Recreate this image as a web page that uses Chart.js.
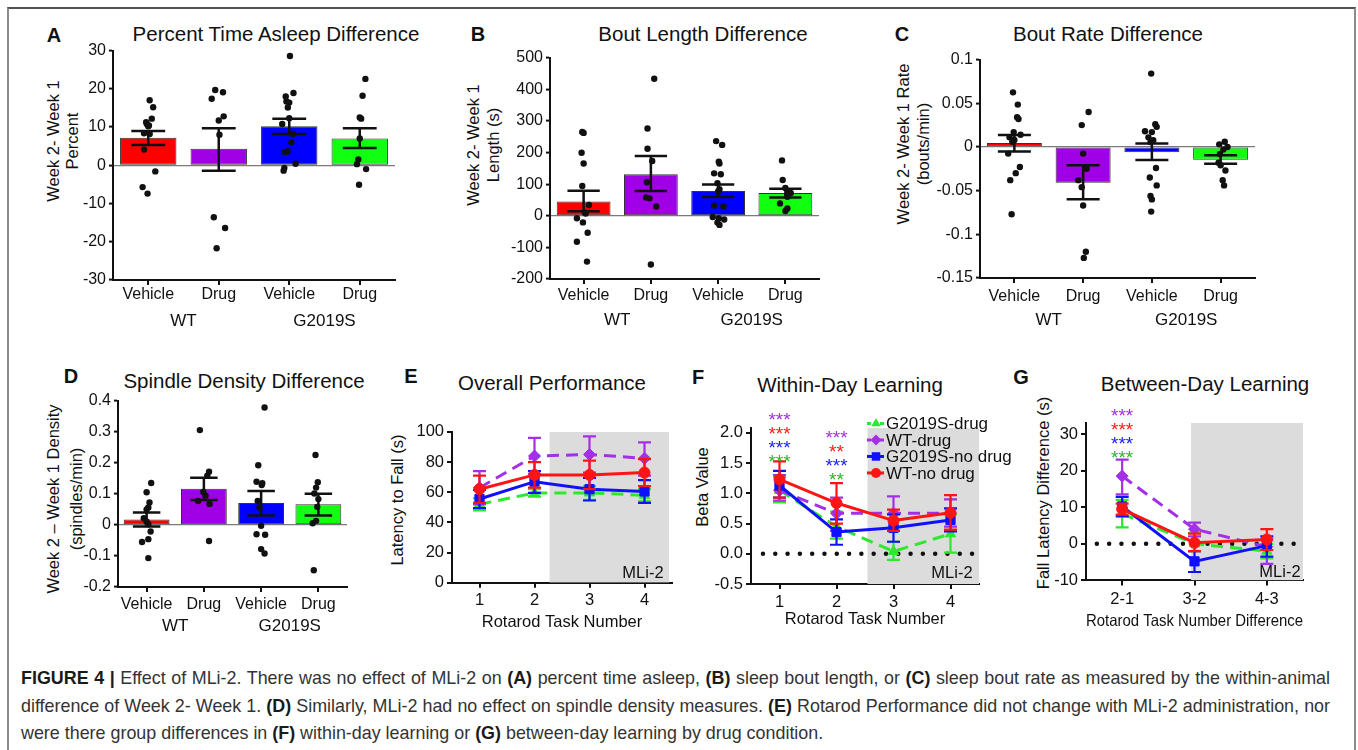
<!DOCTYPE html>
<html>
<head>
<meta charset="utf-8">
<script src="https://cdn.jsdelivr.net/npm/chart.js@4.4.1/dist/chart.umd.min.js"></script>
<style>
html, body { margin: 0; padding: 0; background: #fff; }
body { width: 1358px; height: 750px; position: relative; overflow: hidden; font-family: "Liberation Sans", Arial, sans-serif; color: #111; }
.frame { position: absolute; left: 7px; top: 7px; width: 1345px; height: 800px; border-top: 2px solid #505050; border-left: 2px solid #8c8c8c; border-right: 2px solid #8c8c8c; }
canvas { position: absolute; }
.t { position: absolute; white-space: nowrap; transform: translate(-50%, -50%); line-height: 1; }
.title { font-size: 20.5px; }
.letter { font-size: 20px; font-weight: bold; }
.yt { font-size: 16.5px; transform: translate(-50%, -50%) rotate(-90deg); }
.ml { font-size: 16.5px; }
.caption { position: absolute; left: 21px; top: 665px; width: 1309px; font-size: 17.9px; line-height: 27.5px; color: #333; }
.caption div { white-space: nowrap; text-align: justify; text-align-last: justify; }
.caption div.last { text-align-last: left; }
.caption b { color: #1a1a1a; }
</style>
</head>
<body>
<div class="frame"></div>

<!-- panel letters and titles -->
<div class="t letter" style="left:54px;top:35px">A</div>
<div class="t letter" style="left:478px;top:34px">B</div>
<div class="t letter" style="left:902px;top:34px">C</div>
<div class="t letter" style="left:71px;top:376px">D</div>
<div class="t letter" style="left:411px;top:376px">E</div>
<div class="t letter" style="left:698px;top:377px">F</div>
<div class="t letter" style="left:1021px;top:377px">G</div>

<div class="t title" style="left:276px;top:34px">Percent Time Asleep Difference</div>
<div class="t title" style="left:703px;top:34px">Bout Length Difference</div>
<div class="t title" style="left:1108px;top:34px">Bout Rate Difference</div>
<div class="t title" style="left:244px;top:381px">Spindle Density Difference</div>
<div class="t title" style="left:552px;top:383px">Overall Performance</div>
<div class="t title" style="left:850px;top:385px">Within-Day Learning</div>
<div class="t title" style="left:1205px;top:384px">Between-Day Learning</div>

<!-- y axis titles -->
<div class="t yt" style="left:53px;top:141px">Week 2- Week 1</div>
<div class="t yt" style="left:72px;top:141px">Percent</div>
<div class="t yt" style="left:473px;top:145px">Week 2- Week 1</div>
<div class="t yt" style="left:493px;top:145px">Length (s)</div>
<div class="t yt" style="left:903px;top:144px">Week 2- Week 1 Rate</div>
<div class="t yt" style="left:923px;top:144px">(bouts/min)</div>
<div class="t yt" style="left:53px;top:499px">Week 2 – Week 1 Density</div>
<div class="t yt" style="left:76px;top:499px">(spindles/min)</div>
<div class="t yt" style="left:397px;top:500px">Latency to Fall (s)</div>
<div class="t yt" style="left:702px;top:487px">Beta Value</div>
<div class="t yt" style="left:1043px;top:493px">Fall Latency Difference (s)</div>

<div class="caption">
<div><b>FIGURE 4 |</b> Effect of MLi-2. There was no effect of MLi-2 on <b>(A)</b> percent time asleep, <b>(B)</b> sleep bout length, or <b>(C)</b> sleep bout rate as measured by the within-animal</div>
<div>difference of Week 2- Week 1. <b>(D)</b> Similarly, MLi-2 had no effect on spindle density measures. <b>(E)</b> Rotarod Performance did not change with MLi-2 administration, nor</div>
<div class="last">were there group differences in <b>(F)</b> within-day learning or <b>(G)</b> between-day learning by drug condition.</div>
</div>

<script>
// ---- shared categories ----
const barLabels = ['Vehicle', 'Drug', 'Vehicle', 'Drug'];
const groupLabels = ['WT', 'G2019S'];
const barColors = ['#ff0000', '#a000e6', '#0000ff', '#11ff11'];

// ---- A: percent time asleep ----
const sleepMeans = [7.2, 4.3, 10.2, 7.0];
const sleepErr = [[5.3, 9.0], [-1.4, 9.7], [8.2, 12.2], [4.5, 9.7]];
const sleepTicks = [-30, -20, -10, 0, 10, 20, 30];
// dots: [offset from category centre, value]
const sleepDots = [
    [[0.02, 17.0], [0.07, 15.2], [0.05, 12.2], [-0.03, 11.3], [-0.02, 10.8], [0.01, 10.4], [0, 10.2], [-0.06, 8.4], [0.02, 8.2], [-0.06, 4.1], [0.1, -1.6], [-0.08, -5.7], [-0.01, -7.4]],
    [[-0.05, 19.7], [0.06, 19.1], [-0.1, 17.4], [0.07, 12.8], [0, 11.7], [0.01, 8.0], [-0.07, -13.6], [0.09, -16.4], [-0.03, -21.7]],
    [[0.01, 28.6], [-0.05, 18.0], [0.06, 18.9], [-0.04, 16.7], [0, 16.4], [-0.02, 15.1], [0, 12.3], [-0.1, 10.8], [0.05, 8.2], [0.03, 6.0], [-0.06, 3.5], [-0.02, 3.7], [0.09, 0.4], [-0.07, -0.7], [-0.08, -1.4]],
    [[0.08, 22.6], [0.04, 18.2], [0, 12.5], [0.02, 12.2], [0, 7.0], [-0.02, 1.5], [-0.04, 0.3], [0.09, -1.0], [-0.01, -5.1]],
];

// ---- B: bout length ----
const boutLenMeans = [45, 131, 78, 72];
const boutLenErr = [[14, 79], [78, 189], [59, 99], [58, 85]];
const boutLenTicks = [-200, -100, 0, 100, 200, 300, 400, 500];
const boutLenDots = [
    [[-0.02, 265], [0, 262], [-0.03, 199], [0, 165], [-0.02, 94], [0.08, 34], [0.02, 10], [0.03, 7], [-0.1, -8], [-0.01, -21], [0.06, -54], [-0.1, -82], [0.05, -145]],
    [[0.05, 433], [-0.05, 276], [-0.05, 212], [0.02, 173], [-0.06, 106], [-0.07, 58], [-0.02, 55], [0.08, 29], [0, -154]],
    [[-0.03, 236], [0.06, 224], [0.01, 171], [0.02, 165], [-0.06, 134], [0.04, 131], [-0.01, 103], [0.02, 84], [0, 77], [-0.06, 32], [0.08, 30], [-0.08, -4], [0.01, -8], [0.09, -12], [-0.01, -21], [0.02, -29]],
    [[-0.05, 175], [-0.04, 113], [0, 88], [0.05, 76], [0.08, 72], [0.03, 60], [-0.08, 39], [0.03, 23], [0, 15]],
];

// ---- C: bout rate ----
const boutRateMeans = [0.0045, -0.041, -0.006, -0.0145];
const boutRateErr = [[-0.0053, 0.0136], [-0.0598, -0.021], [-0.0148, 0.0039], [-0.0193, -0.0094]];
const boutRateTicks = [-0.15, -0.1, -0.05, 0, 0.05, 0.1];
const boutRateDots = [
    [[-0.02, 0.0625], [0.05, 0.0485], [0.04, 0.034], [0.06, 0.032], [-0.01, 0.017], [0.09, 0.014], [-0.07, 0.011], [0, 0.008], [-0.03, 0.006], [-0.09, -0.0076], [0.08, -0.023], [0.02, -0.030], [-0.06, -0.038], [-0.04, -0.077]],
    [[0.08, 0.040], [-0.02, 0.025], [0, -0.0076], [0.05, -0.025], [-0.07, -0.038], [-0.02, -0.046], [0, -0.067], [0.04, -0.120], [0.01, -0.127]],
    [[-0.01, 0.084], [0.05, 0.026], [0.07, 0.023], [-0.1, 0.018], [0, 0.017], [-0.05, 0.011], [0.02, 0.0076], [-0.02, 0.0057], [0.06, -0.024], [-0.03, -0.035], [0.07, -0.044], [-0.02, -0.056], [0, -0.060], [-0.01, -0.074]],
    [[0.06, 0.006], [-0.02, 0.003], [0.1, 0], [0.04, -0.003], [-0.01, -0.008], [-0.03, -0.018], [0, -0.021], [0.07, -0.027], [0.03, -0.038], [0.05, -0.044]],
];

// ---- D: spindle density ----
const spindleMeans = [0.017, 0.116, 0.070, 0.066];
const spindleErr = [[-0.005, 0.04], [0.08, 0.152], [0.03, 0.109], [0.03, 0.1]];
const spindleTicks = [-0.2, -0.1, 0, 0.1, 0.2, 0.3, 0.4];
const spindleDots = [
    [[0.08, 0.135], [0, 0.105], [0.05, 0.072], [0.03, 0.056], [0, 0.05], [-0.05, 0.0215], [0, 0.01], [0.03, 0.002], [0.07, -0.0215], [0.03, -0.046], [-0.08, -0.055], [0.03, -0.107]],
    [[-0.07, 0.305], [0.09, 0.171], [0.06, 0.158], [-0.01, 0.106], [0.03, 0.094], [-0.1, 0.077], [0.1, 0.067], [0.09, -0.052]],
    [[0.06, 0.378], [-0.05, 0.192], [-0.08, 0.139], [0.02, 0.134], [0.01, 0.128], [-0.06, 0.077], [-0.03, 0.056], [0, -0.003], [-0.08, -0.03], [0.07, -0.032], [0, -0.078], [0.06, -0.092]],
    [[-0.05, 0.225], [-0.01, 0.137], [-0.04, 0.12], [-0.07, 0.101], [0, 0.083], [-0.02, 0.058], [-0.04, 0.013], [-0.1, 0.005], [-0.08, -0.146]],
];

// ---- rotarod groups (E, F, G) ----
const groupNames = ['WT-no drug', 'G2019S-no drug', 'WT-drug', 'G2019S-drug'];
const groupColors = ['#ff1414', '#1010ff', '#a330e6', '#2ee82e'];
const groupDash = [[], [], [12, 7], [12, 7]];
const groupPoints = ['circle', 'rect', 'rectRot', 'triangle'];
const groupRadius = [5.5, 6.5, 6, 6];

// E: overall performance
const taskLabels = ['1', '2', '3', '4'];
const perfWtNo = [62, 71.5, 71.5, 73];
const perfWtNoErr = [[53, 71], [63, 80], [62, 81], [64, 82]];
const perfG2No = [55.5, 67, 62, 60.5];
const perfG2NoErr = [[49.5, 61.5], [59.5, 74], [54.5, 69.5], [53, 68]];
const perfWtDrug = [63, 84, 85, 82.5];
const perfWtDrugErr = [[52, 74], [72, 96], [73, 97], [71, 93]];
const perfG2Drug = [52, 59.5, 59.5, 58];
const perfG2DrugErr = [[48, 56], [57, 62], [55, 64], [54, 62]];
const perfTicks = [0, 20, 40, 60, 80, 100];

// F: within-day learning (beta)
const betaWtNo = [1.23, 0.84, 0.55, 0.68];
const betaWtNoErr = [[0.93, 1.53], [0.5, 1.17], [0.38, 0.73], [0.4, 0.97]];
const betaG2No = [1.13, 0.36, 0.43, 0.56];
const betaG2NoErr = [[0.93, 1.37], [0.15, 0.57], [0.2, 0.65], [0.37, 0.75]];
const betaWtDrug = [1.05, 0.67, 0.67, 0.67];
const betaWtDrugErr = [[0.88, 1.3], [0.38, 0.93], [0.38, 0.95], [0.45, 0.9]];
const betaG2Drug = [1.05, 0.45, 0.04, 0.33];
const betaG2DrugErr = [[0.85, 1.27], [0.25, 0.7], [-0.1, 0.2], [0.02, 0.65]];
const betaTicks = [-0.5, 0, 0.5, 1, 1.5, 2];

// G: between-day learning
const diffLabels = ['2-1', '3-2', '4-3'];
const diffWtNo = [9.5, 0.3, 1.2];
const diffWtNoErr = [[8, 11], [-2, 2.8], [-1.7, 4]];
const diffG2No = [10.2, -4.8, -0.5];
const diffG2NoErr = [[7.5, 12.8], [-7.7, -2], [-3.5, 2]];
const diffWtDrug = [18.5, 4, -0.8];
const diffWtDrugErr = [[13.5, 23], [2, 5.8], [-5.5, 1.2]];
const diffG2Drug = [8.2, 0, -2];
const diffG2DrugErr = [[4.5, 12], [-2, 3], [-4, 0]];
const diffTicks = [-10, 0, 10, 20, 30];

// significance stars: category, top value, rows of [text, colour]
const starPurple = '#a030e0', starRed = '#ff1a1a', starBlue = '#2020ff', starGreen = '#2bb52b';
const betaStars = [
    {x: 1, y: 2.30, rows: [['***', starPurple], ['***', starRed], ['***', starBlue], ['***', starGreen]]},
    {x: 2, y: 2.00, rows: [['***', starPurple], ['**', starRed], ['***', starBlue], ['**', starGreen]]},
];
const diffStars = [
    {x: 1, y: 36.3, rows: [['***', starPurple], ['***', starRed], ['***', starBlue], ['***', starGreen]]},
];

// ---- chart setup ----
const FONT = '"Liberation Sans", Arial, sans-serif';
Chart.defaults.font.family = FONT;
Chart.defaults.color = '#111';
Chart.defaults.animation = false;
Chart.defaults.plugins.legend.display = false;
Chart.defaults.plugins.tooltip.enabled = false;

function makeCanvas(left, top, width, height) {
    const c = document.createElement('canvas');
    c.width = Math.round(width);
    c.height = Math.round(height);
    c.style.left = Math.round(left) + 'px';
    c.style.top = Math.round(top) + 'px';
    c.style.width = Math.round(width) + 'px';
    c.style.height = Math.round(height) + 'px';
    document.body.appendChild(c);
    return c;
}

// error bars for any dataset carrying an `err` list of [low, high]
const errorBars = {
    id: 'errorBars',
    afterDatasetDraw(chart, args) {
        const ds = chart.data.datasets[args.index];
        if (!ds.err) return;
        const ys = chart.scales[args.meta.yAxisID];
        const ctx = chart.ctx;
        const half = ds.capFrac ? ds.capFrac * chart.chartArea.width / ds.data.length : ds.capHalf;
        ctx.save();
        ctx.strokeStyle = ds.errColor || ds.borderColor;
        ctx.lineWidth = ds.errWidth || 2;
        args.meta.data.forEach((el, i) => {
            const x = el.x;
            const y1 = ys.getPixelForValue(ds.err[i][0]);
            const y2 = ys.getPixelForValue(ds.err[i][1]);
            ctx.beginPath();
            ctx.moveTo(x, y1); ctx.lineTo(x, y2);
            ctx.moveTo(x - half, y1); ctx.lineTo(x + half, y1);
            ctx.moveTo(x - half, y2); ctx.lineTo(x + half, y2);
            ctx.stroke();
        });
        ctx.restore();
    }
};

function starPlugin(stars) {
    return {
        id: 'stars',
        afterDraw(chart) {
            const ctx = chart.ctx, xs = chart.scales.x, ys = chart.scales.y;
            ctx.save();
            ctx.font = '19px ' + FONT;
            ctx.textAlign = 'center';
            ctx.textBaseline = 'alphabetic';
            stars.forEach(s => {
                const x = xs.getPixelForValue(s.x);
                const y0 = ys.getPixelForValue(s.y);
                s.rows.forEach(([txt, col], r) => {
                    ctx.fillStyle = col;
                    ctx.fillText(txt, x, y0 + r * 14 + 11);
                });
            });
            ctx.restore();
        }
    };
}

function legendPlugin(anchor, order) {
    return {
        id: 'miniLegend',
        afterDraw(chart) {
            const ctx = chart.ctx;
            const x0 = chart.scales.x.getPixelForValue(anchor.x);
            const y0 = chart.scales.y.getPixelForValue(anchor.y);
            order.forEach((k, r) => {
                const ds = chart.data.datasets[k];
                const y = y0 + r * anchor.step;
                ctx.save();
                ctx.strokeStyle = ds.borderColor;
                ctx.fillStyle = ds.backgroundColor;
                ctx.lineWidth = 3;
                ctx.beginPath();
                if (ds.borderDash.length) {
                    ctx.moveTo(x0 - 9, y); ctx.lineTo(x0 - 5, y);
                    ctx.moveTo(x0 + 4, y); ctx.lineTo(x0 + 8, y);
                } else {
                    ctx.moveTo(x0 - 9, y); ctx.lineTo(x0 + 8, y);
                }
                ctx.stroke();
                Chart.helpers.drawPoint(ctx, {pointStyle: ds.pointStyle, radius: ds.pointRadius - 0.5, borderWidth: 0, rotation: 0}, x0, y);
                ctx.fillStyle = '#111';
                ctx.font = '17px ' + FONT;
                ctx.textBaseline = 'middle';
                ctx.textAlign = 'left';
                ctx.fillText(ds.label, x0 + 10, y + 1);
                ctx.restore();
            });
        }
    };
}

// bar + scatter panel (A-D)
function barPanel(p) {
    const [L, T, R, B] = p.area;
    const left = L - 50, top = T - 12;
    const cv = makeCanvas(left, top, R + 12 - left, B + p.hx + p.hg + 2 - top);
    const n = barLabels.length;
    const dots = [];
    p.dots.forEach((grp, i) => grp.forEach(([dx, y]) => dots.push({x: i + 1 + dx, y: y})));
    new Chart(cv, {
        type: 'bar',
        data: {
            labels: barLabels,
            datasets: [{
                type: 'scatter',
                data: dots,
                xAxisID: 'xj',
                backgroundColor: '#111',
                borderWidth: 0,
                pointRadius: 3.2,
            }, {
                data: p.means,
                xAxisID: 'x',
                grouped: false,
                backgroundColor: barColors,
                borderColor: '#333',
                borderWidth: 1,
                borderSkipped: false,
                barPercentage: 0.8,
                categoryPercentage: 1,
                err: p.err,
                errColor: '#111',
                errWidth: 2.5,
                capFrac: 0.24,
            }]
        },
        options: {
            responsive: false,
            layout: {padding: {left: 0, top: 12, right: 12, bottom: 2}},
            scales: {
                x: {
                    offset: true,
                    grid: {offset: false, drawOnChartArea: false, color: '#111', lineWidth: 2, tickLength: 5},
                    border: {color: '#111', width: 2},
                    ticks: {font: {size: 16}, color: '#111', padding: p.xpad, maxRotation: 0, autoSkip: false},
                    afterFit: s => { s.height = p.hx; },
                },
                xg: {
                    type: 'category',
                    labels: groupLabels,
                    offset: true,
                    weight: 1,
                    position: 'bottom',
                    grid: {display: false, drawTicks: false},
                    border: {display: false},
                    ticks: {font: {size: 17}, color: '#111', padding: p.gpad, maxRotation: 0, autoSkip: false},
                    afterFit: s => { s.height = p.hg; },
                },
                // hidden linear twin of x, used to spread the dots around each bar
                xj: {type: 'linear', display: false, offset: false, grid: {offset: false}, min: 0.5, max: n + 0.5},
                y: {
                    min: p.ticks[0],
                    max: p.ticks[p.ticks.length - 1],
                    afterBuildTicks: s => { s.ticks = p.ticks.map(v => ({value: v})); },
                    ticks: {font: {size: 16}, color: '#111', padding: 3, callback: v => String(v)},
                    grid: {
                        color: c => (c.tick && c.tick.value === 0) ? '#7a7a7a' : 'rgba(0,0,0,0)',
                        lineWidth: 1.2,
                        tickColor: '#111',
                        tickWidth: 2,
                        tickLength: 4,
                    },
                    border: {color: '#111', width: 2},
                    afterFit: s => { s.width = 50; },
                }
            }
        },
        plugins: [errorBars]
    });
}

// line panel with error bars (E-G)
function linePanel(p) {
    const [L, T, R, B] = p.area;
    const left = L - 50, top = T - p.padTop;
    const padRight = p.padRight || 12;
    const cv = makeCanvas(left, top, R + padRight - left, B + p.hx + 2 - top);
    const n = p.cats.length;
    const datasets = p.series.map((s, k) => ({
        label: groupNames[k],
        data: s.mean.map((v, i) => ({x: i + 1, y: v})),
        err: s.err,
        borderColor: groupColors[k],
        backgroundColor: groupColors[k],
        borderWidth: 3,
        borderDash: groupDash[k],
        pointStyle: groupPoints[k],
        pointRadius: groupRadius[k],
        pointBorderWidth: 1,
        errWidth: 2.2,
        capHalf: 6.5,
    }));
    if (p.dotted) {
        datasets.push({
            data: p.dotted.map(x => ({x: x, y: 0})),
            borderColor: '#111',
            borderWidth: 4.5,
            borderDash: [0, 12.3],
            borderCapStyle: 'round',
            pointRadius: 0,
        });
    }
    datasets.push({
        data: p.shade.map(x => ({x: x, y: p.yMax})),
        fill: 'start',
        backgroundColor: '#dcdcdc',
        borderColor: 'rgba(0,0,0,0)',
        borderWidth: 0,
        pointRadius: 0,
    });
    const plugins = [errorBars];
    if (p.stars) plugins.push(starPlugin(p.stars));
    if (p.legend) plugins.push(legendPlugin(p.legend, [3, 2, 1, 0]));
    new Chart(cv, {
        type: 'line',
        data: {datasets: datasets},
        options: {
            responsive: false,
            layout: {padding: {left: 0, top: p.padTop, right: padRight, bottom: 2}},
            scales: {
                x: {
                    type: 'linear',
                    offset: false,
                    min: 0.5,
                    max: n + 0.5,
                    afterBuildTicks: s => { s.ticks = p.cats.map((c, i) => ({value: i + 1})); },
                    ticks: {font: {size: 16.5}, color: '#111', padding: p.xpad, callback: v => p.cats[v - 1]},
                    grid: {drawOnChartArea: false, color: '#111', lineWidth: 2, tickLength: 5},
                    border: {color: '#111', width: 2},
                    title: {display: true, text: p.xTitle, font: {size: 16.5}, color: '#111', padding: {top: 0, bottom: 0}},
                    afterFit: s => { s.height = p.hx; },
                },
                y: {
                    min: p.yTicks[0],
                    max: p.yMax,
                    afterBuildTicks: s => { s.ticks = p.yTicks.map(v => ({value: v})); },
                    ticks: {font: {size: 16.5}, color: '#111', padding: 3, callback: p.fmt},
                    grid: {drawOnChartArea: false, color: '#111', lineWidth: 2, tickLength: 5},
                    border: {color: '#111', width: 2},
                    afterFit: s => { s.width = 50; },
                }
            }
        },
        plugins: plugins
    });
}

// ---- build panels ----
barPanel({area: [113, 50, 395, 280], means: sleepMeans, err: sleepErr, dots: sleepDots, ticks: sleepTicks, hx: 30, hg: 32, xpad: 0, gpad: 1});
barPanel({area: [550, 57, 819, 279], means: boutLenMeans, err: boutLenErr, dots: boutLenDots, ticks: boutLenTicks, hx: 30, hg: 32, xpad: 1.5, gpad: 1.5});
barPanel({area: [980, 59, 1255, 278], means: boutRateMeans, err: boutRateErr, dots: boutRateDots, ticks: boutRateTicks, hx: 30, hg: 32, xpad: 4, gpad: 2.5});
barPanel({area: [118, 400, 347, 587], means: spindleMeans, err: spindleErr, dots: spindleDots, ticks: spindleTicks, hx: 28, hg: 30, xpad: 3.4, gpad: 1.5});

linePanel({
    area: [452, 431, 672, 582.3], padTop: 12, hx: 49.3, xpad: 3,
    cats: taskLabels, xTitle: 'Rotarod Task Number',
    yTicks: perfTicks, yMax: 100, fmt: v => String(v),
    shade: [2.27, 4.45],
    series: [
        {mean: perfWtNo, err: perfWtNoErr},
        {mean: perfG2No, err: perfG2NoErr},
        {mean: perfWtDrug, err: perfWtDrugErr},
        {mean: perfG2Drug, err: perfG2DrugErr},
    ],
});
linePanel({
    area: [751, 428, 979.3, 584], padTop: 32, padRight: 45, hx: 44.9, xpad: 3,
    cats: taskLabels, xTitle: 'Rotarod Task Number',
    yTicks: betaTicks, yMax: 2.08, fmt: v => v.toFixed(1),
    shade: [2.54, 4.5], dotted: [0.71, 4.39],
    stars: betaStars,
    legend: {x: 2.693, y: 2.155, step: 16.5},
    series: [
        {mean: betaWtNo, err: betaWtNoErr},
        {mean: betaG2No, err: betaG2NoErr},
        {mean: betaWtDrug, err: betaWtDrugErr},
        {mean: betaG2Drug, err: betaG2DrugErr},
    ],
});
linePanel({
    area: [1086, 423, 1303, 580], padTop: 32, hx: 50.6, xpad: 4,
    cats: diffLabels, xTitle: 'Rotarod Task Number Difference',
    yTicks: diffTicks, yMax: 33, fmt: v => String(v),
    shade: [1.95, 3.5], dotted: [0.65, 3.44],
    stars: diffStars,
    series: [
        {mean: diffWtNo, err: diffWtNoErr},
        {mean: diffG2No, err: diffG2NoErr},
        {mean: diffWtDrug, err: diffWtDrugErr},
        {mean: diffG2Drug, err: diffG2DrugErr},
    ],
});
</script>
<div class="t ml" style="left:643px;top:572px">MLi-2</div>
<div class="t ml" style="left:952px;top:572px">MLi-2</div>
<div class="t ml" style="left:1280px;top:571px">MLi-2</div>
</body>
</html>
